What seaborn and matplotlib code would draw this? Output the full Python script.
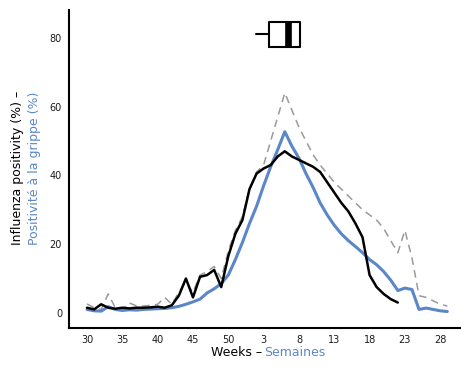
import matplotlib
matplotlib.use("Agg")
import matplotlib.pyplot as plt
import seaborn as sns
import numpy as np
import pandas as pd

week_labels = [30, 35, 40, 45, 50, 3, 8, 13, 18, 23, 28]
week_tick_pos = [0, 5, 10, 15, 20, 25, 30, 35, 40, 45, 50]

current = [1.5, 1.0, 2.5, 1.5, 1.2, 1.5, 1.3, 1.5, 1.5, 1.6, 1.8, 1.5, 2.2, 5.0,
           10.0, 4.5, 10.5, 11.0, 12.5, 7.5, 16.5, 23.0, 27.0, 36.0, 40.5, 42.0,
           43.0, 45.5, 47.0, 45.5, 44.5, 43.5, 42.5, 41.0, 38.0, 35.0, 32.0, 29.5,
           26.0, 22.0, 11.0, 7.5, 5.5, 4.0, 3.0]
average = [1.0, 0.6, 0.5, 1.8, 1.0, 0.7, 0.9, 0.8, 1.0, 1.1, 1.2, 1.3, 1.5, 1.9,
           2.5, 3.2, 4.0, 5.8, 7.0, 8.5, 11.0, 15.5, 20.5, 26.0, 31.0, 37.0, 42.5,
           47.5, 52.7, 48.5, 45.0, 40.5, 36.5, 32.0, 28.5, 25.5, 23.0, 21.0, 19.3,
           17.5, 15.5, 14.0, 12.0, 9.5, 6.5, 7.2, 6.8, 1.0, 1.4, 1.0, 0.6, 0.4]
maximum = [2.6, 1.5, 1.0, 5.5, 1.5, 1.0, 2.9, 2.0, 2.0, 2.2, 2.5, 4.5, 2.5, 6.0,
           9.0, 6.0, 11.0, 12.0, 13.5, 10.0, 18.0, 24.0, 28.0, 36.0, 41.0, 43.0,
           50.0, 57.0, 64.0, 59.0, 54.0, 50.0, 46.0, 43.0, 40.5, 38.0, 36.0, 34.0,
           32.0, 30.0, 28.5, 27.0, 24.5, 21.0, 17.5, 24.0, 16.0, 5.0, 4.5, 3.5,
           2.5, 2.0]

# peak-timing box summary (week index units)
peak_q1, peak_med, peak_q3, peak_lo, peak_hi = 25.7, 28.5, 30.1, 23.9, 30.1
box_y = 81.0

sns.set_style("white")
FONT = ["Liberation Sans Narrow", "DejaVu Sans"]
plt.rcParams["font.family"] = FONT

fig = plt.figure(figsize=(4.61, 3.74), dpi=100)
ax = fig.add_axes([69/461, 1-328/374, 391/461, 318/374])

blue = "#5b87c8"
sns.lineplot(x=np.arange(len(maximum)), y=maximum, ax=ax, color="#9a9a9a",
             lw=1.1, dashes=False, linestyle=(0, (5, 3.5)))
sns.lineplot(x=np.arange(len(average)), y=average, ax=ax, color=blue, lw=2.2)
sns.lineplot(x=np.arange(len(current)), y=current, ax=ax, color="black", lw=1.8)

stats = [dict(med=peak_med, q1=peak_q1, q3=peak_q3, whislo=peak_lo,
              whishi=peak_hi, fliers=[])]
ax.bxp(stats, positions=[box_y], widths=7.1, orientation="horizontal",
       showcaps=False, showfliers=False,
       boxprops=dict(color="black", lw=1.5),
       whiskerprops=dict(color="black", lw=1.5),
       medianprops=dict(color="black", lw=4.8, solid_capstyle="butt"),
       manage_ticks=False)

ax.set_xlim(-2.55, 52.8)
ax.set_ylim(-4.4, 88.1)
ax.set_xticks(week_tick_pos)
ax.set_xticklabels([str(w) for w in week_labels])
ax.set_yticks([0, 20, 40, 60, 80])
ax.tick_params(axis="both", length=3, width=0.8, color="black",
               labelsize=7, labelcolor="#1a1a1a", pad=2, direction="out")
for s in ["top", "right"]:
    ax.spines[s].set_visible(False)
for s in ["left", "bottom"]:
    ax.spines[s].set_linewidth(1.5)
    ax.spines[s].set_color("black")
ax.set_xlabel("")
ax.set_ylabel("")

fig.text(18/461, 0.551, "Influenza positivity (%) \u2013", rotation=90,
         ha="center", va="center", fontsize=9, color="black", family=FONT)
fig.text(35/461, 0.551, "Positivit\u00e9 \u00e0 la grippe (%)", rotation=90,
         ha="center", va="center", fontsize=9, color=blue, family=FONT)
fig.text(262/461, 1-352/374, "Weeks \u2013", ha="right", va="center",
         fontsize=9, color="black", family=FONT)
fig.text(264/461, 1-352/374, "Semaines", ha="left", va="center",
         fontsize=9, color=blue, family=FONT)

fig.savefig("out.png", dpi=100)
